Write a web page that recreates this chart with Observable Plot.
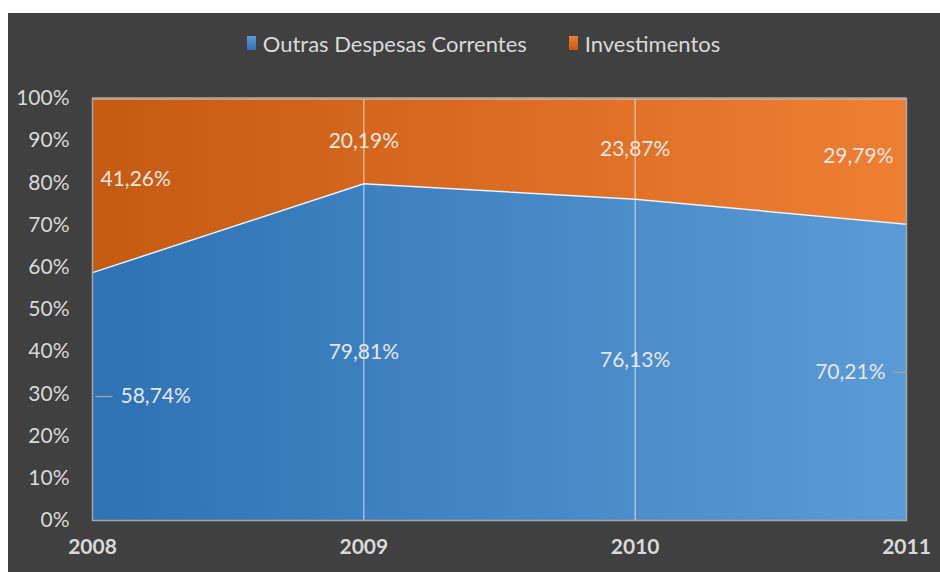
<!DOCTYPE html>
<html><head><meta charset="utf-8">
<script src="https://cdn.jsdelivr.net/npm/d3@7"></script>
<script src="https://cdn.jsdelivr.net/npm/@observablehq/plot@0.6"></script>
<style>
body{margin:0;background:#fff;font-family:Lato,sans-serif;}
#chart{position:absolute;left:8px;top:13px;width:932px;height:559px;background:#404040;overflow:hidden;}
#legend{height:60px;display:flex;justify-content:center;align-items:center;color:#d9d9d9;font-size:22px;padding-left:19px;box-sizing:border-box;}
.item{display:flex;align-items:center;}
.sw{width:9px;height:14px;margin-right:7px;}
#plot svg{display:block;}
</style></head>
<body>
<div id="chart">
  <div id="legend"></div>
  <div id="plot"></div>
</div>
<script>
const years = [2008, 2009, 2010, 2011];
const seriesNames = ["Outras Despesas Correntes", "Investimentos"];
const outras = [58.74, 79.81, 76.13, 70.21];
const investimentos = [41.26, 20.19, 23.87, 29.79];
const yTicks = [0, 10, 20, 30, 40, 50, 60, 70, 80, 90, 100];

const blueGrad = ["#2e72b4", "#5b9bd5"];
const orangeGrad = ["#c55a11", "#ee7f33"];

const rows = years.map((y, i) => ({year: y, outras: outras[i], inv: investimentos[i]}));
const fmt = v => v.toFixed(2).replace(".", ",") + "%";

// legend
const legend = document.getElementById("legend");
[[seriesNames[0], blueGrad], [seriesNames[1], orangeGrad]].forEach(([name, g], i) => {
  const it = document.createElement("div");
  it.className = "item";
  if (i > 0) it.style.marginLeft = "42px";
  const sw = document.createElement("span");
  sw.className = "sw";
  sw.style.background = `linear-gradient(to bottom, ${g[1]}, ${g[0]})`;
  const t = document.createElement("span");
  t.textContent = name;
  it.append(sw, t);
  legend.append(it);
});

const defs = () => {
  const d = d3.create("svg:defs");
  [["gradBlue", blueGrad], ["gradOrange", orangeGrad]].forEach(([id, g]) => {
    const lg = d.append("linearGradient").attr("id", id).attr("x1", 0).attr("x2", 1).attr("y1", 0).attr("y2", 0);
    lg.append("stop").attr("offset", 0).attr("stop-color", g[0]);
    lg.append("stop").attr("offset", 1).attr("stop-color", g[1]);
  });
  return d.node();
};

const labels = [];
rows.forEach(r => {
  labels.push({year: r.year, y: r.outras / 2, text: fmt(r.outras), s: "o"});
  labels.push({year: r.year, y: r.outras + r.inv / 2, text: fmt(r.inv), s: "i"});
});
const first = years[0], last = years[years.length - 1];
const mid = labels.filter(d => d.year !== first && d.year !== last);

const chart = Plot.plot({
  width: 932,
  height: 499,
  marginLeft: 84,
  marginRight: 34,
  marginTop: 25,
  marginBottom: 52,
  style: {fontFamily: "Lato, sans-serif", fontSize: "21px", color: "#d9d9d9", background: "transparent", overflow: "visible"},
  x: {domain: [first, last]},
  y: {domain: [0, 100]},
  marks: [
    defs,
    Plot.areaY(rows, {x: "year", y: "outras", fill: "url(#gradBlue)"}),
    Plot.areaY(rows, {x: "year", y1: "outras", y2: 100, fill: "url(#gradOrange)"}),
    Plot.ruleX(years.slice(1, -1), {stroke: "#ffffff", strokeOpacity: 0.55, strokeWidth: 1.3}),
    Plot.line(rows, {x: "year", y: "outras", stroke: "#f2f2f2", strokeWidth: 1.5}),
    Plot.ruleY([100], {stroke: "#f4c9ab", strokeWidth: 2}),
    Plot.frame({stroke: "#a6a6a6", strokeWidth: 1.5}),
    Plot.link(labels.filter(d => d.s === "o" && d.year === first), {x1: d => d.year + 0.011, x2: d => d.year + 0.074, y1: "y", y2: "y", stroke: "#a6a6a6", strokeWidth: 1.2}),
    Plot.link(labels.filter(d => d.s === "o" && d.year === last), {x1: d => d.year - 0.048, x2: d => d.year, y1: "y", y2: "y", stroke: "#a6a6a6", strokeWidth: 1.2}),
    Plot.text(mid, {x: "year", y: "y", text: "text", fill: "#e6e6e6", fontSize: 21}),
    Plot.text(labels.filter(d => d.s === "o" && d.year === first), {x: "year", y: "y", text: "text", textAnchor: "start", dx: 28, fill: "#e6e6e6", fontSize: 21}),
    Plot.text(labels.filter(d => d.s === "i" && d.year === first), {x: "year", y: "y", text: "text", textAnchor: "start", dx: 8, dy: -6, fill: "#e6e6e6", fontSize: 21}),
    Plot.text(labels.filter(d => d.s === "o" && d.year === last), {x: "year", y: "y", text: "text", textAnchor: "end", dx: -21, fill: "#e6e6e6", fontSize: 21}),
    Plot.text(labels.filter(d => d.s === "i" && d.year === last), {x: "year", y: "y", text: "text", textAnchor: "end", dx: -13, dy: -5, fill: "#e6e6e6", fontSize: 21}),
    Plot.axisY({ticks: yTicks, tickFormat: d => d + "%", tickSize: 0, tickPadding: 23, label: null, fill: "#d9d9d9", fontSize: 21}),
    Plot.axisX({ticks: years, tickFormat: d => String(d), tickSize: 0, tickPadding: 19, label: null, fill: "#d9d9d9", fontSize: 21, fontWeight: "bold"})
  ]
});
document.getElementById("plot").append(chart);
</script>
</body></html>
